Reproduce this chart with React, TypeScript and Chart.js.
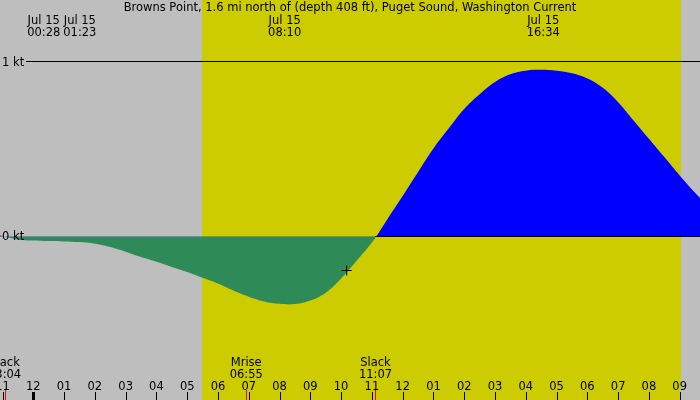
import React, { useEffect, useRef } from "react";
import { Chart, registerables } from "chart.js";

Chart.register(...registerables);

const TITLE = "Browns Point, 1.6 mi north of (depth 408 ft), Puget Sound, Washington Current";

// time in hours from local midnight Jul 15, current speed in knots (+ ebb / - flood)
const hours = [-1.082, -1, -0.5, 0, 0.5, 1, 1.5, 2, 2.5, 3, 3.5, 4, 4.5, 5, 5.5, 6, 6.5, 7, 7.5, 8, 8.5, 9, 9.5, 10, 10.5, 11, 11.5, 12, 12.5, 13, 13.5, 14, 14.5, 15, 15.5, 16, 16.5, 17, 17.5, 18, 18.5, 19, 19.5, 20, 20.5, 21, 21.5, 21.66];
const knots = [0.005, 0.003, -0.017, -0.023, -0.026, -0.028, -0.032, -0.041, -0.06, -0.087, -0.118, -0.145, -0.175, -0.204, -0.237, -0.27, -0.31, -0.345, -0.372, -0.386, -0.387, -0.367, -0.322, -0.24, -0.14, -0.035, 0.098, 0.232, 0.37, 0.505, 0.62, 0.73, 0.815, 0.885, 0.93, 0.95, 0.955, 0.95, 0.935, 0.905, 0.852, 0.77, 0.665, 0.56, 0.455, 0.35, 0.25, 0.221];

const X_MIN = -1.082;
const X_MAX = 21.66;
const Y_MIN = -0.937;
const Y_MAX = 1.3553;

const sunriseHour = 5.47;
const sunsetHour = 21.04;

const topEventHours = [0.467, 1.383, 8.167, 16.567];
const topEventDates = ["Jul 15", "Jul 15", "Jul 15", "Jul 15"];
const topEventTimes = ["00:28", "01:23", "08:10", "16:34"];

const bottomEventHours = [-0.933, 6.917, 11.117];
const bottomEventNames = ["Slack", "Mrise", "Slack"];
const bottomEventTimes = ["23:04", "06:55", "11:07"];

const hourTicks = [-1, 0, 1, 2, 3, 4, 5, 6, 7, 8, 9, 10, 11, 12, 13, 14, 15, 16, 17, 18, 19, 20, 21];
const hourLabels = ["11", "12", "01", "02", "03", "04", "05", "06", "07", "08", "09", "10", "11", "12", "01", "02", "03", "04", "05", "06", "07", "08", "09"];

const knotLines = [1, 0];
const knotLabels = ["1 kt", "0 kt"];
const zeroLineFromHour = 11.117;

const nowHour = [10.18];
const nowKnots = [-0.195];

const FONT = '11.5px "DejaVu Sans"';
const GRAY = "#bebebe";
const YELLOW = "#cccc00";

const decorPlugin = {
  id: "decor",
  beforeDraw(chart: any) {
    const { ctx, scales } = chart;
    const x = scales.x;
    ctx.save();
    ctx.fillStyle = GRAY;
    ctx.fillRect(0, 0, chart.width, chart.height);
    const x1 = Math.round(x.getPixelForValue(sunriseHour));
    const x2 = Math.round(x.getPixelForValue(sunsetHour));
    ctx.fillStyle = YELLOW;
    ctx.fillRect(x1, 0, x2 - x1, chart.height);
    ctx.restore();
  },
  afterDatasetsDraw(chart: any) {
    const { ctx, scales } = chart;
    const x = scales.x;
    const y = scales.y;
    const W = chart.width;
    ctx.save();
    ctx.fillStyle = "#000";
    knotLines.forEach((k) => {
      const py = Math.round(y.getPixelForValue(k) - 0.5);
      const startX = k === 0 ? Math.round(x.getPixelForValue(zeroLineFromHour)) : 26;
      ctx.fillRect(startX, py, W - startX, 1);
    });
    ctx.font = FONT;
    ctx.textBaseline = "alphabetic";
    ctx.textAlign = "left";
    knotLines.forEach((k, i) => {
      const py = y.getPixelForValue(k);
      ctx.fillText(knotLabels[i], 2, py + 4);
    });
    ctx.textAlign = "center";
    ctx.fillText(TITLE, W / 2, 11);
    const centers = topEventHours.map((h) => x.getPixelForValue(h));
    const widths = topEventTimes.map((t, i) => Math.max(ctx.measureText(t).width, ctx.measureText(topEventDates[i]).width));
    for (let i = 1; i < centers.length; i++) {
      const gap = 3;
      const overlap = centers[i - 1] + widths[i - 1] / 2 + gap - (centers[i] - widths[i] / 2);
      if (overlap > 0) {
        centers[i - 1] -= overlap / 2;
        centers[i] += overlap / 2;
      }
    }
    centers.forEach((cx, i) => {
      ctx.fillText(topEventDates[i], cx, 24);
      ctx.fillText(topEventTimes[i], cx, 36);
    });
    bottomEventHours.forEach((h, i) => {
      const cx = x.getPixelForValue(h);
      ctx.fillText(bottomEventNames[i], cx, 366);
      ctx.fillText(bottomEventTimes[i], cx, 378);
    });
    hourTicks.forEach((h, i) => {
      const px = x.getPixelForValue(h);
      ctx.fillText(hourLabels[i], px, 390);
      const rx = Math.round(px);
      if (h === 0) ctx.fillRect(rx - 1, 392, 3, 8);
      else ctx.fillRect(rx, 392, 1, 8);
    });
    ctx.fillStyle = "#ff0000";
    bottomEventHours.forEach((h) => {
      const rx = Math.round(x.getPixelForValue(h));
      ctx.fillRect(rx, 390, 1, 10);
    });
    ctx.restore();
  },
};

export default function App() {
  const ref = useRef<HTMLCanvasElement | null>(null);
  useEffect(() => {
    if (!ref.current) return;
    const chart = new Chart(ref.current, {
      type: "line",
      data: {
        datasets: [
          {
            label: "current",
            data: hours.map((h, i) => ({ x: h, y: knots[i] })),
            borderWidth: 0,
            borderColor: "rgba(0,0,0,0)",
            pointRadius: 0,
            tension: 0.4,
            order: 1,
            fill: { target: "origin", above: "#0000ff", below: "#2e8b57" },
          } as any,
          {
            label: "now",
            data: nowHour.map((h, i) => ({ x: h, y: nowKnots[i] })),
            showLine: false,
            fill: false,
            order: 0,
            pointStyle: "cross",
            pointRadius: 5,
            borderWidth: 1,
            borderColor: "#000",
            backgroundColor: "#000",
          } as any,
        ],
      },
      options: {
        animation: false,
        responsive: false,
        events: [],
        layout: { padding: 0, autoPadding: false },
        plugins: { legend: { display: false }, tooltip: { enabled: false }, title: { display: false } },
        scales: {
          x: { type: "linear", display: false, min: X_MIN, max: X_MAX },
          y: { type: "linear", display: false, min: Y_MIN, max: Y_MAX },
        },
      },
      plugins: [decorPlugin],
    });
    return () => chart.destroy();
  }, []);
  return (
    <div style={{ position: "fixed", left: 0, top: 0, width: 700, height: 400 }}>
      <canvas ref={ref} width={700} height={400} style={{ display: "block", width: 700, height: 400 }} />
    </div>
  );
}
